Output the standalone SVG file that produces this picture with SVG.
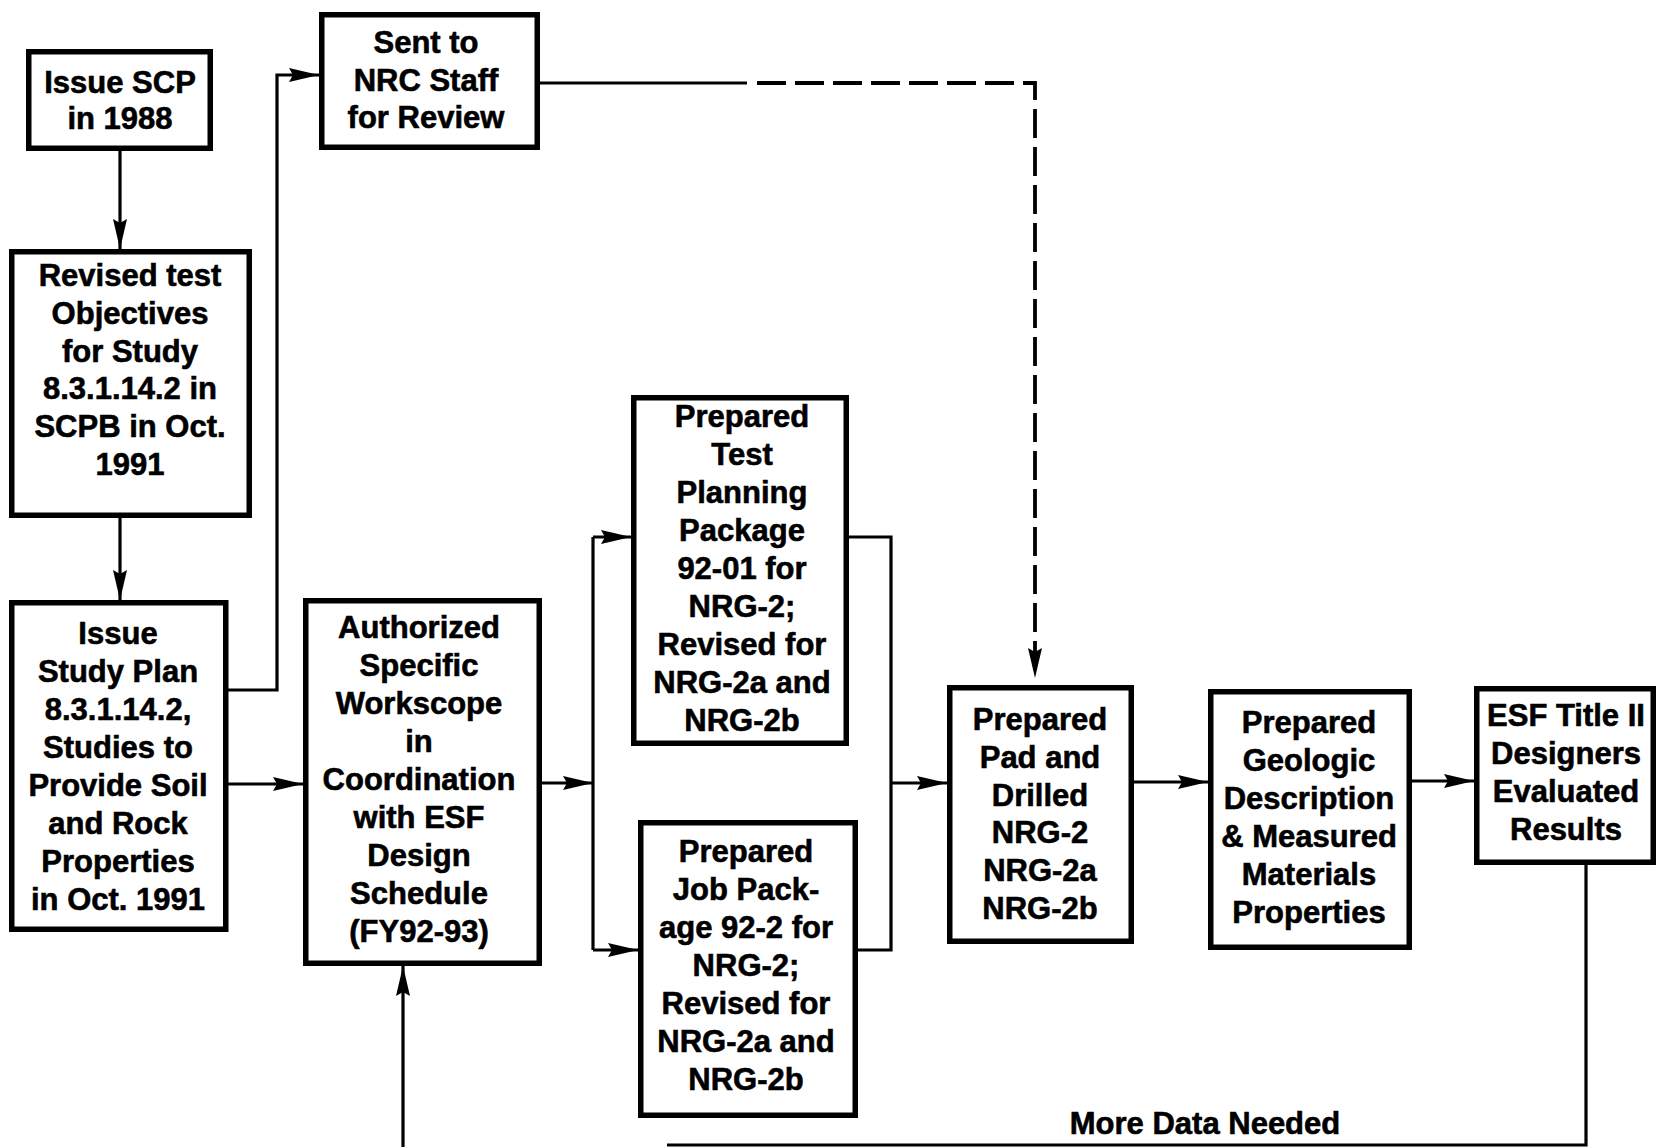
<svg xmlns="http://www.w3.org/2000/svg" width="1657" height="1147" viewBox="0 0 1657 1147">
  <style>
    .box { fill: #fff; stroke: #000; stroke-width: 5.5; }
    .lbl { font-family: "Liberation Sans", Arial, Helvetica, sans-serif; font-weight: bold; font-size: 31px; fill: #000; stroke: #000; stroke-width: 0.6; text-anchor: middle; }
    .wire { fill: none; stroke: #000; stroke-width: 3.2; }
    .dash { fill: none; stroke: #000; stroke-width: 3.8; stroke-dasharray: 29 9; }
    .arrow { marker-end: url(#head); }
  </style>
  <defs>
    <marker id="head" markerUnits="userSpaceOnUse" markerWidth="32" markerHeight="16" refX="30" refY="8" orient="auto">
      <path d="M0,1 L30,8 L0,15 L4,8 z" fill="#000"/>
    </marker>
  </defs>
  <rect width="1657" height="1147" fill="#fff"/>

  <!-- connectors -->
  <g id="connectors">
    <path class="wire arrow" d="M120,151 V249"/>
    <path class="wire arrow" d="M120,518 V600"/>
    <path class="wire arrow" d="M228,690 H277 V75 H319"/>
    <path class="wire" d="M540,83 H747"/>
    <path class="dash arrow" d="M757,83 H1035 V678"/>
    <path class="wire arrow" d="M228,784 H303"/>
    <path class="wire arrow" d="M542,783 H593"/>
    <path class="wire" d="M593,537 V950"/>
    <path class="wire arrow" d="M593,537 H631"/>
    <path class="wire arrow" d="M593,950 H638"/>
    <path class="wire" d="M849,537 H891 V950 H858"/>
    <path class="wire arrow" d="M891,783 H947"/>
    <path class="wire arrow" d="M1134,782 H1208"/>
    <path class="wire arrow" d="M1412,781 H1474"/>
    <path class="wire" d="M1586,865 V1145 H667"/>
    <path class="wire arrow" d="M403,1147 V966"/>
    <text class="lbl" x="1205" y="1134">More Data Needed</text>
  </g>

  <g id="issue-scp">
    <rect class="box" x="28.75" y="51.75" width="181.5" height="96.5"/>
    <text class="lbl" x="120" y="93">Issue SCP</text>
    <text class="lbl" x="120" y="129">in 1988</text>
  </g>

  <g id="sent-nrc">
    <rect class="box" x="321.75" y="14.75" width="215.5" height="132.5"/>
    <text class="lbl" x="426" y="53">Sent to</text>
    <text class="lbl" x="426" y="91">NRC Staff</text>
    <text class="lbl" x="426" y="128">for Review</text>
  </g>

  <g id="revised-objectives">
    <rect class="box" x="11.75" y="251.75" width="237.5" height="263.5"/>
    <text class="lbl" x="130" y="286">Revised test</text>
    <text class="lbl" x="130" y="324">Objectives</text>
    <text class="lbl" x="130" y="362">for Study</text>
    <text class="lbl" x="130" y="399">8.3.1.14.2 in</text>
    <text class="lbl" x="130" y="437">SCPB in Oct.</text>
    <text class="lbl" x="130" y="475">1991</text>
  </g>

  <g id="study-plan">
    <rect class="box" x="11.75" y="602.75" width="214" height="326.5"/>
    <text class="lbl" x="118" y="644">Issue</text>
    <text class="lbl" x="118" y="682">Study Plan</text>
    <text class="lbl" x="118" y="720">8.3.1.14.2,</text>
    <text class="lbl" x="118" y="758">Studies to</text>
    <text class="lbl" x="118" y="796">Provide Soil</text>
    <text class="lbl" x="118" y="834">and Rock</text>
    <text class="lbl" x="118" y="872">Properties</text>
    <text class="lbl" x="118" y="910">in Oct. 1991</text>
  </g>

  <g id="authorized-workscope">
    <rect class="box" x="305.75" y="600.75" width="233.5" height="362.5"/>
    <text class="lbl" x="419" y="638">Authorized</text>
    <text class="lbl" x="419" y="676">Specific</text>
    <text class="lbl" x="419" y="714">Workscope</text>
    <text class="lbl" x="419" y="752">in</text>
    <text class="lbl" x="419" y="790">Coordination</text>
    <text class="lbl" x="419" y="828">with ESF</text>
    <text class="lbl" x="419" y="866">Design</text>
    <text class="lbl" x="419" y="904">Schedule</text>
    <text class="lbl" x="419" y="942">(FY92-93)</text>
  </g>

  <g id="test-planning-package">
    <rect class="box" x="633.75" y="397.75" width="212.5" height="345.5"/>
    <text class="lbl" x="742" y="427">Prepared</text>
    <text class="lbl" x="742" y="465">Test</text>
    <text class="lbl" x="742" y="503">Planning</text>
    <text class="lbl" x="742" y="541">Package</text>
    <text class="lbl" x="742" y="579">92-01 for</text>
    <text class="lbl" x="742" y="617">NRG-2;</text>
    <text class="lbl" x="742" y="655">Revised for</text>
    <text class="lbl" x="742" y="693">NRG-2a and</text>
    <text class="lbl" x="742" y="731">NRG-2b</text>
  </g>

  <g id="job-package">
    <rect class="box" x="640.75" y="822.75" width="214.5" height="292.5"/>
    <text class="lbl" x="746" y="862">Prepared</text>
    <text class="lbl" x="746" y="900">Job Pack-</text>
    <text class="lbl" x="746" y="938">age 92-2 for</text>
    <text class="lbl" x="746" y="976">NRG-2;</text>
    <text class="lbl" x="746" y="1014">Revised for</text>
    <text class="lbl" x="746" y="1052">NRG-2a and</text>
    <text class="lbl" x="746" y="1090">NRG-2b</text>
  </g>

  <g id="pad-drilled">
    <rect class="box" x="949.75" y="687.75" width="181.5" height="253.5"/>
    <text class="lbl" x="1040" y="730">Prepared</text>
    <text class="lbl" x="1040" y="768">Pad and</text>
    <text class="lbl" x="1040" y="806">Drilled</text>
    <text class="lbl" x="1040" y="843">NRG-2</text>
    <text class="lbl" x="1040" y="881">NRG-2a</text>
    <text class="lbl" x="1040" y="919">NRG-2b</text>
  </g>

  <g id="geologic-description">
    <rect class="box" x="1210.75" y="691.75" width="198.5" height="255.5"/>
    <text class="lbl" x="1309" y="733">Prepared</text>
    <text class="lbl" x="1309" y="771">Geologic</text>
    <text class="lbl" x="1309" y="809">Description</text>
    <text class="lbl" x="1309" y="847">&amp; Measured</text>
    <text class="lbl" x="1309" y="885">Materials</text>
    <text class="lbl" x="1309" y="923">Properties</text>
  </g>

  <g id="title-ii-evaluation">
    <rect class="box" x="1476.75" y="688.75" width="176.5" height="173.5"/>
    <text class="lbl" x="1566" y="726">ESF Title II</text>
    <text class="lbl" x="1566" y="764">Designers</text>
    <text class="lbl" x="1566" y="802">Evaluated</text>
    <text class="lbl" x="1566" y="840">Results</text>
  </g>
</svg>
